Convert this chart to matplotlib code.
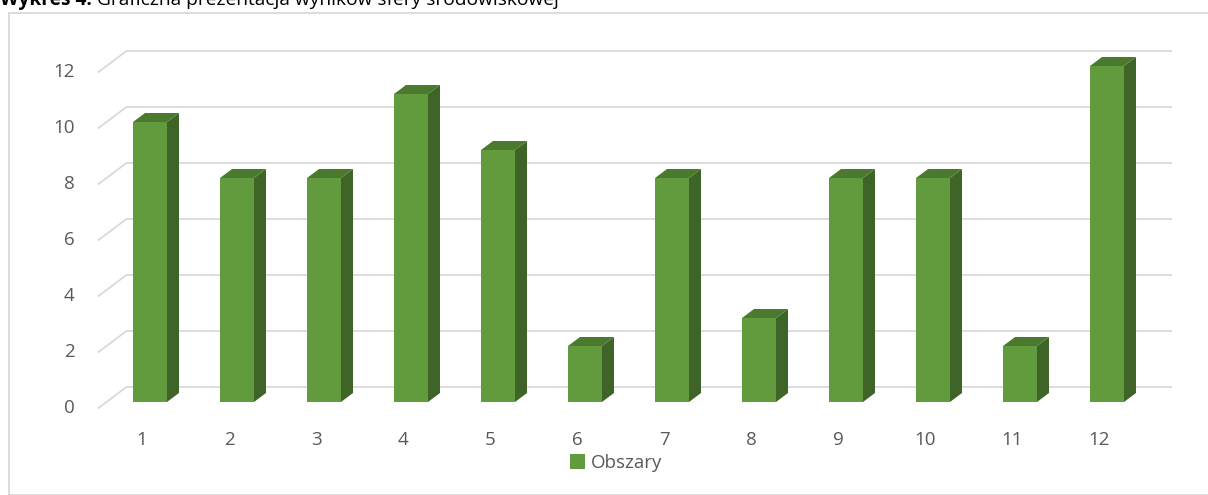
import matplotlib
matplotlib.use("Agg")
import matplotlib.pyplot as plt
from matplotlib.patches import Polygon, Rectangle, Patch

plt.rcParams['font.family'] = ['Open Sans', 'DejaVu Sans']

# data
categories = [1, 2, 3, 4, 5, 6, 7, 8, 9, 10, 11, 12]
values = [10, 8, 8, 11, 9, 2, 8, 3, 8, 8, 2, 12]
yticks = [0, 2, 4, 6, 8, 10, 12]
series_name = 'Obszary'
title_bold = 'Wykres 4.'
title_rest = ' Graficzna prezentacja wyników sfery środowiskowej'

front = '#629b3e'
side = '#3f6428'
top = '#4b7a2f'
grid = '#d9d9d9'
txt = '#595959'

W, H = 1208, 495
fig = plt.figure(figsize=(W / 100, H / 100), dpi=100)
ax = fig.add_axes([0, 0, 1, 1])
# 87 px per category, 28 px per unit
ax.set_xlim(1 - 150 / 87, 1 + (W - 150) / 87)
ax.set_ylim((402 - H) / 28, 402 / 28)
ax.axis('off')

px = 1 / 87
py = 1 / 28
# 3d offsets
bw = 34 * px
ddx, ddy = 12 * px, 9 * py          # bar depth
wdx, wdy = 20 * px, 15 * py         # back wall
fdx, fdy = -8 * px, -6 * py         # floor front
x0, x1 = 0.5, 12.5

for v in yticks:
    ax.plot([x0 + wdx, x1 + wdx], [v + wdy, v + wdy], color=grid, lw=1.3, zorder=1)
    ax.plot([x0 + fdx, x0 + wdx], [v + fdy, v + wdy], color=grid, lw=1.3, zorder=1)
    ax.text(x0 + fdx - 24 * px, v + fdy, str(v), ha='right', va='center',
            fontsize=13.5, color=txt)

for c, v in zip(categories, values):
    l, r = c - bw / 2, c + bw / 2
    ax.bar(c, v, width=bw, color=front, zorder=3)
    ax.add_patch(Polygon([(r, 0), (r + ddx, ddy), (r + ddx, v + ddy), (r, v)],
                         closed=True, facecolor=side, edgecolor='none', zorder=3))
    ax.add_patch(Polygon([(l, v), (r, v), (r + ddx, v + ddy), (l + ddx, v + ddy)],
                         closed=True, facecolor=top, edgecolor='none', zorder=3))
    ax.text(c + fdx, -38 * py, str(c), ha='center', va='center',
            fontsize=13.5, color=txt)

# chart border
fig.patches.append(Rectangle((9 / W, 0), 1, 1 - 13 / H, transform=fig.transFigure,
                             fill=False, edgecolor=grid, lw=1.3))

leg = fig.legend(handles=[Patch(facecolor=front, label=series_name)],
                 loc='center', bbox_to_anchor=(616 / W, 1 - 463 / H), frameon=False,
                 fontsize=13.5, handlelength=0.8, handleheight=0.8, handletextpad=0.3)
for t in leg.get_texts():
    t.set_color(txt)

t1 = fig.text(0, 1 - 5 / H, title_bold, fontsize=13.8, fontweight='bold',
              color='black', va='baseline', ha='left')
fig.canvas.draw()
bb = t1.get_window_extent()
fig.text(bb.x1 / W, 1 - 5 / H, title_rest, fontsize=13.8, color='black',
         va='baseline', ha='left')

fig.savefig('out.png', dpi=100)
